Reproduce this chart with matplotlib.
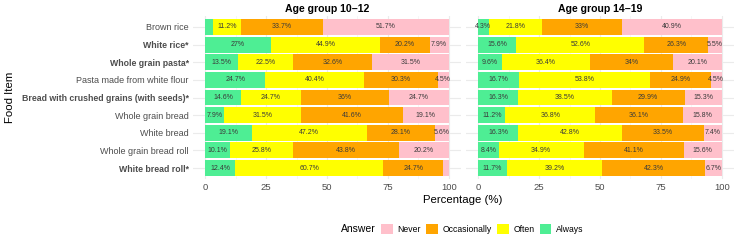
import numpy as np
import matplotlib.pyplot as plt
from matplotlib.patches import Patch

plt.rcParams['font.family'] = ['Liberation Sans', 'DejaVu Sans']

# 数据
items = ['Brown rice', 'White rice*', 'Whole grain pasta*', 'Pasta made from white flour',
         'Bread with crushed grains (with seeds)*', 'Whole grain bread', 'White bread',
         'Whole grain bread roll', 'White bread roll*']
answers = ['Always', 'Often', 'Occasionally', 'Never']
colors = {'Never': '#FFC0CB', 'Occasionally': '#FFA500', 'Often': '#FFFF00', 'Always': '#4EEE94'}

always_1012 = [3.4, 27, 13.5, 24.7, 14.6, 7.9, 19.1, 10.1, 12.4]
often_1012 = [11.2, 44.9, 22.5, 40.4, 24.7, 31.5, 47.2, 25.8, 60.7]
occas_1012 = [33.7, 20.2, 32.6, 30.3, 36, 41.6, 28.1, 43.8, 24.7]
never_1012 = [51.7, 7.9, 31.5, 4.5, 24.7, 19.1, 5.6, 20.2, 2.2]

always_1419 = [4.3, 15.6, 9.6, 16.7, 16.3, 11.2, 16.3, 8.4, 11.7]
often_1419 = [21.8, 52.6, 36.4, 53.8, 38.5, 36.8, 42.8, 34.9, 39.2]
occas_1419 = [33, 26.3, 34, 24.9, 29.9, 36.1, 33.5, 41.1, 42.3]
never_1419 = [40.9, 5.5, 20.1, 4.5, 15.3, 15.8, 7.4, 15.6, 6.7]

groups = ['Age group 10\u201312', 'Age group 14\u201319']
data = [
    [always_1012, often_1012, occas_1012, never_1012],
    [always_1419, often_1419, occas_1419, never_1419],
]

W, H = 739, 240
fig = plt.figure(figsize=(W / 100, H / 100), dpi=100)

# 面板位置(像素)
top, bottom = 16.4, 178.6
panels = [(193, 461), (466, 734)]
y = np.arange(len(items))

for k, (x0, x1) in enumerate(panels):
    ax = fig.add_axes([x0 / W, 1 - bottom / H, (x1 - x0) / W, (bottom - top) / H])
    left = np.zeros(len(items))
    for name, vals in zip(answers, data[k]):
        vals = np.array(vals, dtype=float)
        ax.barh(y, vals, left=left, height=0.9, color=colors[name], zorder=2)
        for i, v in enumerate(vals):
            if v > 4:
                ax.text(left[i] + v / 2, y[i], f'{v:g}%', ha='center', va='center',
                        fontsize=5, color='#3A3A3A', zorder=3)
        left += vals
    ax.set_xlim(-5, 105)
    ax.set_ylim(len(items) - 0.4, -0.6)
    ax.set_xticks([0, 25, 50, 75, 100])
    ax.set_xticks([12.5, 37.5, 62.5, 87.5], minor=True)
    ax.grid(True, which='major', color='#EBEBEB', linewidth=0.8, zorder=0)
    ax.grid(True, which='minor', axis='x', color='#F3F3F3', linewidth=0.5, zorder=0)
    ax.set_axisbelow(True)
    for s in ax.spines.values():
        s.set_visible(False)
    ax.tick_params(axis='x', length=0, labelsize=6.8, labelcolor='#4D4D4D', pad=3)
    ax.tick_params(axis='y', length=0, labelsize=6.45, labelcolor='#4D4D4D', pad=3)
    ax.tick_params(which='minor', length=0)
    ax.set_yticks(y)
    if k == 0:
        ax.set_yticklabels(items)
        for lab in ax.get_yticklabels():
            if lab.get_text().endswith('*'):
                lab.set_fontweight('bold')
                lab.set_fontsize(6.3)
    else:
        ax.set_yticklabels([])
    ax.set_title(groups[k], fontsize=7.6, fontweight='bold', pad=3)

fig.text(10 / W, 1 - 97 / H, 'Food Item', rotation=90, ha='center', va='center', fontsize=8.2)
fig.text(463 / W, 1 - 200 / H, 'Percentage (%)', ha='center', va='center', fontsize=8.2)

# 图例
handles = [Patch(facecolor=colors[a]) for a in ['Never', 'Occasionally', 'Often', 'Always']]
fig.legend(handles, ['Never', 'Occasionally', 'Often', 'Always'], loc='center',
           bbox_to_anchor=(482.5 / W, 1 - 229 / H), ncol=4, frameon=False, fontsize=6.2,
           handlelength=1.35, handleheight=1.35, handletextpad=0.55, columnspacing=0.6)
fig.text(358 / W, 1 - 229 / H, 'Answer', ha='center', va='center', fontsize=7.5)

fig.savefig('out.png', dpi=100)
